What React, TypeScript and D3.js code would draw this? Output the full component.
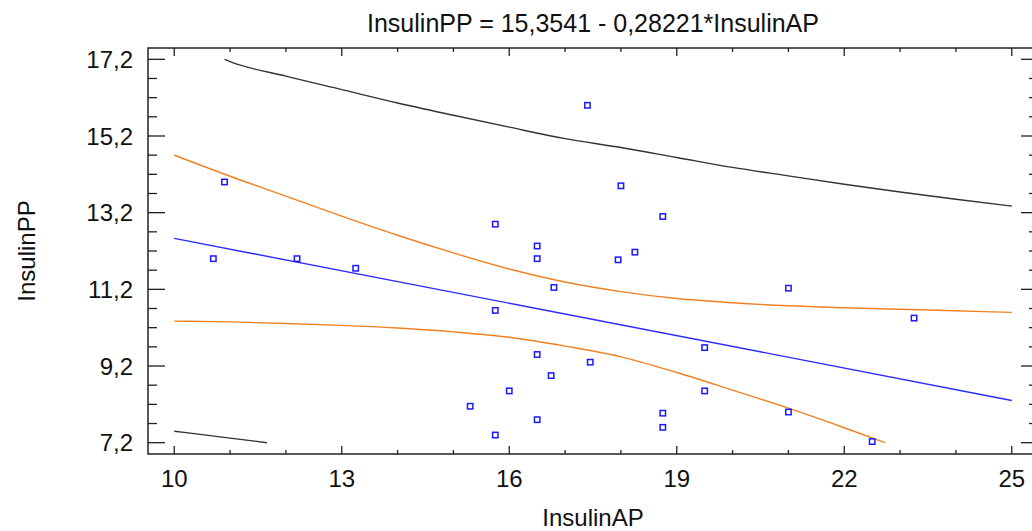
import React from "react";
import * as d3 from "d3";

// Observed data (InsulinAP vs InsulinPP)
const pointX = [10.9, 10.7, 12.2, 13.25, 17.4, 18.0, 18.75, 15.75, 16.5, 16.5, 18.25, 17.95, 16.8, 15.75, 16.5, 17.45, 16.75, 16.0, 15.3, 16.5, 15.75, 18.75, 18.75, 21.0, 23.25, 19.5, 19.5, 21.0, 22.5];
const pointY = [14.0, 12.0, 12.0, 11.75, 16.0, 13.9, 13.1, 12.9, 12.33, 12.0, 12.17, 11.97, 11.25, 10.65, 9.5, 9.3, 8.95, 8.55, 8.15, 7.8, 7.4, 7.97, 7.6, 11.23, 10.45, 9.68, 8.55, 8.0, 7.23];

// Fitted line
const fitX = [10, 25];
const fitY = [12.53, 8.3];

// Confidence limits (orange)
const upperConfX = [10, 11, 12, 13, 14, 15, 16, 17, 18, 19, 20, 21, 22, 23, 24, 25];
const upperConfY = [14.7, 14.15, 13.63, 13.11, 12.61, 12.15, 11.73, 11.39, 11.14, 10.96, 10.85, 10.77, 10.72, 10.68, 10.64, 10.6];
const lowerConfX = [10, 11, 12, 13, 14, 15, 16, 17, 18, 19, 20, 21, 22, 22.73];
const lowerConfY = [10.37, 10.35, 10.31, 10.26, 10.19, 10.09, 9.95, 9.72, 9.44, 9.03, 8.57, 8.1, 7.59, 7.2];

// Prediction limits (black)
const upperPredX = [10.9, 11, 12, 13, 14, 15, 16, 17, 18, 19, 20, 21, 22, 23, 24, 25];
const upperPredY = [17.2, 17.14, 16.76, 16.41, 16.06, 15.74, 15.43, 15.13, 14.9, 14.64, 14.38, 14.16, 13.94, 13.74, 13.55, 13.37];
const lowerPredX = [10, 11, 11.66];
const lowerPredY = [7.5, 7.32, 7.2];

// Axes
const xMajorTicks = [10, 13, 16, 19, 22, 25];
const xMinorTicks = [10, 11, 12, 13, 14, 15, 16, 17, 18, 19, 20, 21, 22, 23, 24, 25];
const yMajorTicks = [7.2, 9.2, 11.2, 13.2, 15.2, 17.2];
const yMinorTicks = [7.2, 7.7, 8.2, 8.7, 9.2, 9.7, 10.2, 10.7, 11.2, 11.7, 12.2, 12.7, 13.2, 13.7, 14.2, 14.7, 15.2, 15.7, 16.2, 16.7, 17.2];

const titleText = "InsulinPP = 15,3541 - 0,28221*InsulinAP";
const xLabel = "InsulinAP";
const yLabel = "InsulinPP";

const W = 1032;
const H = 531;
const left = 148, right = 1038, top = 48, bottom = 454;
const FONT = "'Liberation Sans', Arial, Helvetica, sans-serif";

export default function App() {
  const x = d3.scaleLinear().domain([9.53, 25.47]).range([left, right]);
  const y = d3.scaleLinear().domain([6.905, 17.495]).range([bottom, top]);

  const mk = (xs: number[], ys: number[]) =>
    d3
      .line<number>()
      .x((_, i) => x(xs[i]))
      .y((d) => y(d))
      .curve(d3.curveMonotoneX)(ys) || "";

  const fmt = (v: number) => v.toFixed(1).replace(".", ",");

  return (
    <svg width={W} height={H} style={{ position: "absolute", left: 0, top: 0, background: "#fff" }} fontFamily={FONT}>
      <rect x={0} y={0} width={W} height={H} fill="#fff" />
      <text x={(left + right) / 2} y={32} textAnchor="middle" fontSize={25} fill="#111">
        {titleText}
      </text>

      {/* Frame */}
      <rect x={left} y={top} width={right - left} height={bottom - top} fill="none" stroke="#222" strokeWidth={1.5} />

      {/* X ticks */}
      {xMinorTicks.map((t) => {
        const major = xMajorTicks.includes(t);
        const len = major ? 8 : 4;
        return (
          <g key={"xt" + t}>
            <line x1={x(t)} x2={x(t)} y1={bottom} y2={bottom - len} stroke="#222" strokeWidth={1.3} />
            <line x1={x(t)} x2={x(t)} y1={top} y2={top + len} stroke="#222" strokeWidth={1.3} />
          </g>
        );
      })}
      {xMajorTicks.map((t) => (
        <text key={"xl" + t} x={x(t)} y={487} textAnchor="middle" fontSize={24} fill="#111">
          {String(t)}
        </text>
      ))}

      {/* Y ticks */}
      {yMinorTicks.map((t) => {
        const major = yMajorTicks.some((m) => Math.abs(m - t) < 1e-6);
        const len = major ? 17 : 9;
        return (
          <g key={"yt" + t}>
            <line x1={left} x2={left + len} y1={y(t)} y2={y(t)} stroke="#222" strokeWidth={1.3} />
            <line x1={right} x2={right - len} y1={y(t)} y2={y(t)} stroke="#222" strokeWidth={1.3} />
          </g>
        );
      })}
      {yMajorTicks.map((t) => (
        <text key={"yl" + t} x={133} y={y(t)} dy="0.36em" textAnchor="end" fontSize={24} fill="#111">
          {fmt(t)}
        </text>
      ))}

      {/* Axis labels */}
      <text x={(left + right) / 2} y={526} textAnchor="middle" fontSize={24} fill="#111">
        {xLabel}
      </text>
      <text
        transform={`translate(35, ${(top + bottom) / 2}) rotate(-90)`}
        textAnchor="middle"
        fontSize={24}
        fill="#111"
      >
        {yLabel}
      </text>

      {/* Curves */}
      <path d={mk(upperPredX, upperPredY)} fill="none" stroke="#333" strokeWidth={1.4} />
      <path d={mk(lowerPredX, lowerPredY)} fill="none" stroke="#333" strokeWidth={1.4} />
      <path d={mk(upperConfX, upperConfY)} fill="none" stroke="#ee8222" strokeWidth={1.4} />
      <path d={mk(lowerConfX, lowerConfY)} fill="none" stroke="#ee8222" strokeWidth={1.4} />
      <path d={mk(fitX, fitY)} fill="none" stroke="#2b2bff" strokeWidth={1.4} />

      {/* Points */}
      {pointX.map((px, i) => (
        <rect
          key={"p" + i}
          x={x(px) - 2.7}
          y={y(pointY[i]) - 2.7}
          width={5.4}
          height={5.4}
          fill="#fff"
          stroke="#1a1aff"
          strokeWidth={1.5}
        />
      ))}
    </svg>
  );
}
